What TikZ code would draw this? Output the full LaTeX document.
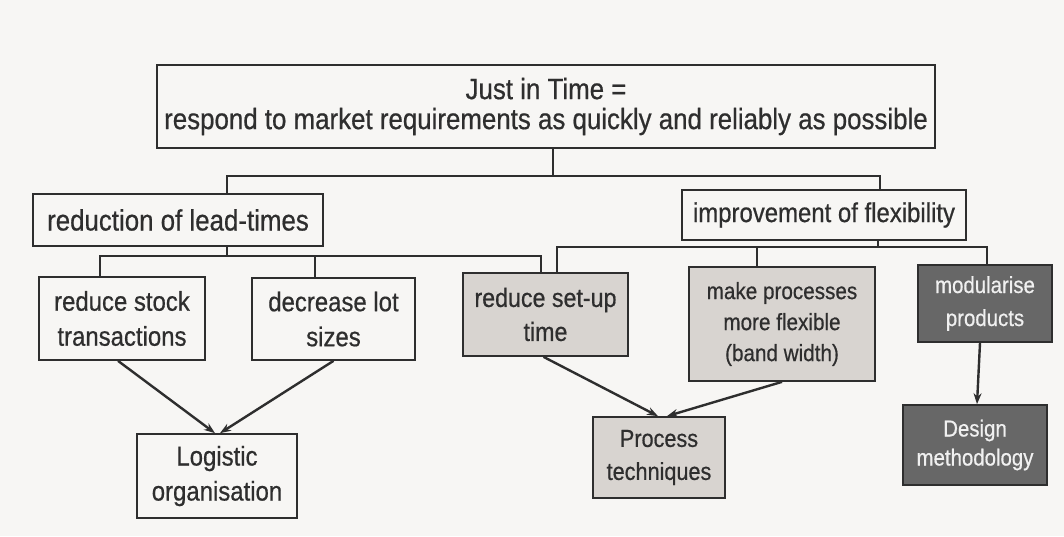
\documentclass[tikz,border=0pt]{standalone}
\usepackage{fontspec}
\setmainfont{Liberation Sans}[FakeStretch=0.88, FakeBold=0.6]
\usetikzlibrary{arrows.meta,calc}

\definecolor{ink}{HTML}{2E2E2E}
\definecolor{paper}{HTML}{F7F6F4}
\definecolor{lightfill}{HTML}{D8D4D0}
\definecolor{darkfill}{HTML}{676767}
\definecolor{lighttext}{HTML}{F0F0F0}
\newcommand\fsz[2]{\fontsize{#1}{#2}\selectfont}

\begin{document}
\begin{tikzpicture}[x=1pt,y=-1pt,
  box/.style={draw=ink, line width=1.7pt, text=ink, align=center, inner sep=0pt},
  plainbox/.style={box, fill=paper},
  lightbox/.style={box, fill=lightfill},
  darkbox/.style={box, fill=darkfill, text=lighttext},
  link/.style={draw=ink, line width=1.5pt},
  flow/.style={draw=ink, line width=2.4pt, -{Stealth[length=11pt,width=8pt]}}]

\fill[paper] (0,0) rectangle (1064,536);
\useasboundingbox (0,0) rectangle (1064,536);

% top goal
\node[plainbox, minimum width=778pt, minimum height=83pt, font=\fsz{29.4}{30}] (top) at (546,106.5)
  {Just in Time =\\respond to market requirements as quickly and reliably as possible};

% two main levers
\node[plainbox, minimum width=290pt, minimum height=52pt, font=\fsz{29.4}{30}] (red) at (178,220)
  {reduction of lead-times};
\node[plainbox, minimum width=284pt, minimum height=50pt, font=\fsz{27.2}{30}] (imp) at (824,215)
  {improvement of flexibility};

% measures
\node[plainbox, minimum width=166pt, minimum height=83pt, font=\fsz{27.2}{35}] (stock) at (122,318.5)
  {reduce stock\\transactions};
\node[plainbox, minimum width=163pt, minimum height=82pt, font=\fsz{27.2}{35}] (lot) at (333.5,319)
  {decrease lot\\sizes};
\node[lightbox, minimum width=165pt, minimum height=83pt, font=\fsz{26.4}{34}] (setup) at (545.5,314.5)
  {reduce set-up\\time};
\node[lightbox, minimum width=186pt, minimum height=114pt, font=\fsz{23.5}{31}] (make) at (782,324)
  {make processes\\more flexible\\(band width)};
\node[darkbox, minimum width=134pt, minimum height=77pt, font=\fsz{23.2}{33}] (mod) at (985,303.5)
  {modularise\\products};

% resulting fields
\node[plainbox, minimum width=160pt, minimum height=84pt, font=\fsz{27.2}{35}] (log) at (217,476)
  {Logistic\\organisation};
\node[lightbox, minimum width=132pt, minimum height=81pt, font=\fsz{24.6}{33}] (proc) at (659,457.5)
  {Process\\techniques};
\node[darkbox, minimum width=144pt, minimum height=80pt, font=\fsz{23.2}{29}] (des) at (975,445)
  {Design\\methodology};

% bus junctions
\coordinate (topbus) at (553,176);
\coordinate (redtap) at (227,0);
\coordinate (imptap) at (880,0);
\coordinate (leadbus) at (227,256);
\coordinate (stockdrop) at (100,0);
\coordinate (lotdrop) at (315,256);
\coordinate (setdropA) at (541,0);
\coordinate (flexbus) at (878,247);
\coordinate (setdropB) at (557,0);
\coordinate (makedrop) at (757,247);
\coordinate (moddrop) at (987,0);

% tree connectors
\draw[link] (top.south -| topbus) -- (topbus);
\draw[link] (red.north -| redtap) |- (topbus) -| (imp.north -| imptap);

\draw[link] (red.south -| leadbus) -- (leadbus);
\draw[link] (stock.north -| stockdrop) |- (leadbus) -| (setup.north -| setdropA);
\draw[link] (lot.north -| lotdrop) -- (lotdrop);

\draw[link] (imp.south -| flexbus) -- (flexbus);
\draw[link] (setup.north -| setdropB) |- (flexbus) -| (mod.north -| moddrop);
\draw[link] (make.north -| makedrop) -- (makedrop);

% contributions
\draw[flow] ([xshift=-4pt]stock.south) -- ([xshift=-2pt]log.north);
\draw[flow] (lot.south) -- ([xshift=3pt]log.north);
\draw[flow] ([xshift=-2pt]setup.south) -- ([xshift=-1pt]proc.north);
\draw[flow] (make.south) -- ([xshift=8pt]proc.north);
\draw[flow] ([xshift=-5pt]mod.south) -- ([xshift=2pt]des.north);

\end{tikzpicture}
\end{document}
